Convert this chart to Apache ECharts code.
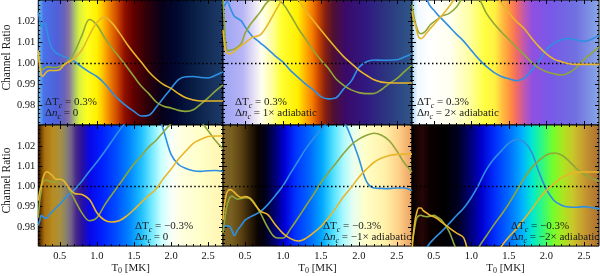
<!DOCTYPE html>
<html><head><meta charset="utf-8">
<script src="https://cdn.jsdelivr.net/npm/echarts@6/dist/echarts.min.js"></script>
<style>html,body{margin:0;padding:0;background:#fff}#c{width:600px;height:276px}</style>
</head><body><div id="c"></div>
<script>
// ---- data ----
const T = [0.21,0.23,0.25,0.27,0.30,0.33,0.36,0.40,0.45,0.50,0.55,0.60,0.70,0.80,0.90,1.00,1.10,1.20,1.30,1.40,1.50,1.60,1.70,1.80,1.90,2.00,2.10,2.20,2.30,2.40,2.50,2.60,2.70];
const b1 = [1.0245,1.0210,1.0175,1.0185,1.0190,1.0150,1.0105,1.0068,1.0050,1.0040,1.0033,1.0027,1.0008,0.9982,0.9958,0.9937,0.9905,0.9862,0.9825,0.9795,0.9770,0.9748,0.9752,0.9790,0.9835,0.9880,0.9922,0.9936,0.9937,0.9932,0.9930,0.9943,0.9960];
const g1 = [1.0040,0.9990,0.9972,0.9970,0.9978,0.9983,0.9983,0.9980,0.9980,0.9985,0.9995,1.0005,1.0055,1.0135,1.0210,1.0183,1.0125,1.0075,1.0030,0.9985,0.9937,0.9890,0.9855,0.9815,0.9795,0.9786,0.9775,0.9770,0.9778,0.9805,0.9835,0.9868,0.9897];
const y1 = [1.0062,0.9990,0.9945,0.9938,0.9950,0.9962,0.9966,0.9966,0.9966,0.9970,0.9990,1.0003,1.0025,1.0065,1.0135,1.0195,1.0222,1.0195,1.0148,1.0095,1.0048,1.0005,0.9960,0.9925,0.9898,0.9880,0.9855,0.9835,0.9825,0.9820,0.9820,0.9820,0.9820];
const b2 = [1.0290,1.0275,1.0290,1.0295,1.0270,1.0245,1.0225,1.0215,1.0203,1.0175,1.0150,1.0128,1.0098,1.0068,1.0035,1.0006,0.9965,0.9933,0.9900,0.9873,0.9841,0.9830,0.9835,0.9878,0.9915,0.9980,1.0008,1.0016,1.0015,1.0015,1.0017,1.0030,1.0046];
const g2 = [1.0310,1.0180,1.0080,1.0060,1.0062,1.0065,1.0068,1.0078,1.0094,1.0143,1.0175,1.0200,1.0245,1.0295,1.0310,1.0285,1.0230,1.0168,1.0115,1.0062,1.0016,0.9975,0.9925,0.9895,0.9873,0.9860,0.9855,0.9856,0.9875,0.9903,0.9927,0.9960,0.9992];
const y2 = [1.0160,1.0090,1.0055,1.0048,1.0045,1.0050,1.0058,1.0070,1.0085,1.0098,1.0112,1.0125,1.0136,1.0185,1.0250,1.0310,1.0340,1.0305,1.0250,1.0205,1.0159,1.0115,1.0072,1.0032,1.0000,0.9968,0.9943,0.9921,0.9910,0.9907,0.9906,0.9906,0.9906];
const b3 = [1.0450,1.0430,1.0410,1.0390,1.0370,1.0350,1.0330,1.0310,1.0275,1.0255,1.0233,1.0215,1.0178,1.0140,1.0105,1.0062,1.0020,0.9985,0.9957,0.9937,0.9926,0.9917,0.9928,0.9965,1.0010,1.0065,1.0097,1.0113,1.0119,1.0112,1.0105,1.0115,1.0135];
const g3 = [1.0280,1.0235,1.0200,1.0175,1.0148,1.0142,1.0145,1.0158,1.0183,1.0198,1.0210,1.0225,1.0238,1.0268,1.0320,1.0340,1.0310,1.0240,1.0190,1.0150,1.0114,1.0077,1.0043,1.0006,0.9977,0.9960,0.9950,0.9944,0.9955,0.9980,1.0018,1.0048,1.0079];
const y3 = [1.0250,1.0210,1.0190,1.0160,1.0125,1.0118,1.0125,1.0143,1.0165,1.0185,1.0205,1.0225,1.0270,1.0320,1.0370,1.0400,1.0410,1.0390,1.0340,1.0290,1.0242,1.0200,1.0168,1.0122,1.0080,1.0045,1.0020,1.0008,0.9998,0.9995,0.9995,0.9995,0.9995];
const b4 = [0.9807,0.9830,0.9857,0.9852,0.9843,0.9845,0.9862,0.9875,0.9895,0.9911,0.9933,0.9953,0.9985,1.0027,1.0075,1.0120,1.0170,1.0222,1.0275,1.0320,1.0360,1.0390,1.0400,1.0380,1.0275,1.0158,1.0108,1.0088,1.0077,1.0074,1.0077,1.0078,1.0073];
const g4 = [0.9845,0.9930,0.9975,1.0015,1.0030,1.0030,1.0025,1.0020,1.0025,1.0035,1.0032,1.0003,0.9935,0.9868,0.9830,0.9845,0.9905,0.9958,1.0008,1.0060,1.0110,1.0151,1.0195,1.0228,1.0270,1.0310,1.0340,1.0360,1.0350,1.0320,1.0275,1.0225,1.0185];
const y4 = [0.9930,0.9975,1.0003,1.0035,1.0065,1.0072,1.0065,1.0053,1.0035,1.0035,1.0028,1.0003,0.9965,0.9960,0.9935,0.9870,0.9834,0.9824,0.9830,0.9853,0.9885,0.9921,0.9955,0.9988,1.0040,1.0085,1.0135,1.0175,1.0212,1.0232,1.0246,1.0249,1.0249];
const b5 = [0.9795,0.9802,0.9805,0.9805,0.9802,0.9780,0.9757,0.9783,0.9808,0.9833,0.9845,0.9855,0.9875,0.9910,0.9955,1.0003,1.0065,1.0125,1.0185,1.0235,1.0280,1.0320,1.0340,1.0320,1.0240,1.0138,1.0025,0.9992,0.9990,0.9989,0.9992,0.9992,0.9979];
const g5 = [0.9770,0.9830,0.9880,0.9915,0.9945,0.9952,0.9945,0.9937,0.9940,0.9944,0.9943,0.9930,0.9870,0.9797,0.9748,0.9745,0.9790,0.9845,0.9902,0.9958,1.0018,1.0068,1.0115,1.0163,1.0205,1.0233,1.0252,1.0262,1.0252,1.0225,1.0175,1.0115,1.0071];
const y5 = [0.9833,0.9910,0.9955,0.9975,0.9984,0.9980,0.9970,0.9955,0.9945,0.9950,0.9945,0.9925,0.9878,0.9860,0.9810,0.9768,0.9742,0.9730,0.9743,0.9770,0.9802,0.9845,0.9895,0.9950,0.9995,1.0045,1.0085,1.0119,1.0140,1.0152,1.0158,1.0159,1.0159];
const b6 = [0.9620,0.9630,0.9640,0.9650,0.9660,0.9670,0.9680,0.9695,0.9720,0.9740,0.9758,0.9775,0.9814,0.9855,0.9893,0.9945,1.0010,1.0083,1.0135,1.0175,1.0214,1.0230,1.0220,1.0172,1.0071,0.9985,0.9930,0.9907,0.9898,0.9897,0.9900,0.9895,0.9889];
const g6 = [0.9720,0.9760,0.9805,0.9840,0.9855,0.9857,0.9853,0.9850,0.9853,0.9857,0.9848,0.9835,0.9780,0.9690,0.9640,0.9620,0.9700,0.9755,0.9810,0.9860,0.9915,0.9975,1.0038,1.0090,1.0127,1.0155,1.0165,1.0155,1.0125,1.0088,1.0060,1.0040,1.0024];
const y6 = [0.9680,0.9770,0.9830,0.9865,0.9893,0.9893,0.9880,0.9870,0.9857,0.9850,0.9840,0.9825,0.9797,0.9770,0.9745,0.9620,0.9600,0.9600,0.9640,0.9703,0.9750,0.9790,0.9838,0.9885,0.9937,0.9980,1.0012,1.0042,1.0060,1.0069,1.0071,1.0071,1.0071];
const xTickLabels = [0.5, 1.0, 1.5, 2.0, 2.5];
const yTickLabels = [0.98, 0.99, 1.00, 1.01, 1.02];
const refLevel = 1.00;
const notes = [
  ['{r|ΔT}{s|c}{r| = 0.3%}', '{r|Δ}{i|n}{s|c}{r| = 0}'],
  ['{r|ΔT}{s|c}{r| = 0.3%}', '{r|Δ}{i|n}{s|c}{r| = 1× adiabatic}'],
  ['{r|ΔT}{s|c}{r| = 0.3%}', '{r|Δ}{i|n}{s|c}{r| = 2× adiabatic}'],
  ['{r|ΔT}{s|c}{r| = −0.3%}', '{r|Δ}{i|n}{s|c}{r| = 0}'],
  ['{r|ΔT}{s|c}{r| = −0.3%}', '{r|Δ}{i|n}{s|c}{r| = −1× adiabatic}'],
  ['{r|ΔT}{s|c}{r| = −0.3%}', '{r|Δ}{i|n}{s|c}{r| = −2× adiabatic}']
];
const seriesSets = [[b1,g1,y1],[b2,g2,y2],[b3,g3,y3],[b4,g4,y4],[b5,g5,y5],[b6,g6,y6]];

// ---- styles / layout ----
const X_MIN = 0.21, X_MAX = 2.70, Y_MIN = 0.9705, Y_MAX = 1.0303;
const FONT = "'Liberation Serif','Times New Roman',serif";
const COLORS = ['#2f8fe3', '#8fa63a', '#e8b62a'];
const layout = [
  {left:35, top:0, width:188, height:125, note:[45,104,115]},
  {left:223, top:0, width:189, height:125, note:[235,104,115]},
  {left:412, top:0, width:187, height:125, note:[417,104,115]},
  {left:35, top:125, width:188, height:124, note:[135,228,239]},
  {left:223, top:125, width:189, height:124, note:[323,228,239]},
  {left:412, top:125, width:187, height:124, note:[511,228,239]}
];
const backgrounds = [
  [[0,'#70c0f0'],[0.016,'#5aa0ee'],[0.032,'#4a70e8'],[0.106,'#5060d8'],[0.144,'#6a62b8'],[0.170,'#8a78a0'],[0.197,'#a8c070'],[0.223,'#d8f040'],[0.266,'#ffff20'],[0.319,'#fff000'],[0.346,'#ffc800'],[0.383,'#f08800'],[0.426,'#d04800'],[0.468,'#901000'],[0.516,'#600000'],[0.585,'#300008'],[0.665,'#080018'],[0.745,'#000830'],[0.851,'#0a2048'],[0.957,'#183460'],[1,'#1c3c6a']],
  [[0,'#9aa4f2'],[0.106,'#b8b4f6'],[0.169,'#e8e4f4'],[0.206,'#fffff0'],[0.259,'#ffffa0'],[0.312,'#ffff30'],[0.397,'#ffee00'],[0.434,'#ffb400'],[0.471,'#f58000'],[0.503,'#d04a00'],[0.540,'#882010'],[0.582,'#501030'],[0.646,'#3a0a68'],[0.751,'#301880'],[0.857,'#2c3480'],[1,'#2e5888']],
  [[0,'#a0d4f6'],[0.032,'#f0f8ff'],[0.096,'#ffffff'],[0.203,'#fffff0'],[0.310,'#ffffa0'],[0.390,'#ffff40'],[0.444,'#fff040'],[0.481,'#ffc040'],[0.524,'#ff9040'],[0.561,'#f06868'],[0.599,'#c058b0'],[0.642,'#9050e0'],[0.738,'#7858e8'],[0.872,'#7070e0'],[1,'#88a8e8']],
  [[0,'#180000'],[0.016,'#683800'],[0.037,'#a87010'],[0.080,'#b88c20'],[0.122,'#a89040'],[0.154,'#888070'],[0.181,'#706088'],[0.207,'#482888'],[0.239,'#2810a0'],[0.282,'#0808e8'],[0.346,'#0020ff'],[0.426,'#0050ff'],[0.495,'#0088ff'],[0.559,'#20c0ff'],[0.612,'#70e8ff'],[0.665,'#c8ffff'],[0.718,'#f8fff8'],[0.771,'#ffffe0'],[0.878,'#ffffc8'],[1,'#fff4b0']],
  [[0,'#806428'],[0.048,'#786020'],[0.101,'#5a4010'],[0.143,'#302008'],[0.185,'#0a0400'],[0.222,'#000018'],[0.275,'#000070'],[0.328,'#0000d8'],[0.381,'#0030ff'],[0.460,'#0068ff'],[0.524,'#00a8ff'],[0.582,'#50e0ff'],[0.635,'#a8f8ff'],[0.688,'#e8fff0'],[0.751,'#ffffc8'],[0.857,'#fff0a8'],[0.926,'#ffd088'],[1,'#e8a060']],
  [[0,'#000000'],[0.032,'#1a0404'],[0.059,'#240606'],[0.096,'#0c0000'],[0.176,'#000000'],[0.246,'#000020'],[0.310,'#000070'],[0.374,'#0000d0'],[0.444,'#0030ff'],[0.524,'#0070ff'],[0.588,'#00b0ff'],[0.642,'#00e8d0'],[0.695,'#30f880'],[0.749,'#70ff30'],[0.802,'#a8e820'],[0.856,'#c8c828'],[0.909,'#c8a030'],[0.963,'#b88030'],[1,'#a87030']]
];

function range(a, b, step) { const out = []; for (let v = a; v <= b + 1e-9; v += step) out.push(+v.toFixed(4)); return out; }
const xMinor = range(0.3, 2.6, 0.1).filter(v => !xTickLabels.some(m => Math.abs(m - v) < 1e-6));
const yMinor = range(0.972, 1.030, 0.002).filter(v => !yTickLabels.some(m => Math.abs(m - v) < 1e-6));

const textBase = {fontFamily: FONT, fontSize: 11, color: '#1a1a1a'};
const noteRich = {
  r: Object.assign({lineHeight: 14}, textBase),
  i: Object.assign({lineHeight: 14, fontStyle: 'italic'}, textBase),
  s: {fontFamily: FONT, fontSize: 8, fontStyle: 'italic', color: '#1a1a1a', lineHeight: 8, verticalAlign: 'bottom'}
};

const grid = [], xAxis = [], yAxis = [], series = [], graphic = [];
layout.forEach((p, i) => {
  const bottomRow = i >= 3, leftCol = i % 3 === 0;
  grid.push({left: p.left, top: p.top, width: p.width, height: p.height, show: true,
    backgroundColor: new echarts.graphic.LinearGradient(0, 0, 1, 0, backgrounds[i].map(([o, c]) => ({offset: o, color: c}))),
    borderColor: '#000', borderWidth: 1});
  const xi = xAxis.length, yi = yAxis.length;
  const mkX = (pos, ticks, len, showLabel) => ({
    type: 'value', gridIndex: i, position: pos, min: X_MIN, max: X_MAX,
    axisLine: {show: false, onZero: false}, splitLine: {show: false},
    axisTick: {show: true, inside: true, length: len, customValues: ticks, lineStyle: {color: '#000', width: 1}},
    axisLabel: {show: showLabel, customValues: ticks, margin: 5, fontFamily: FONT, fontSize: 10.5, color: '#111', formatter: v => v.toFixed(1)},
    name: showLabel ? '{t|T}{s|0}{t| [MK]}' : '', nameLocation: 'middle', nameGap: 13,
    nameTextStyle: {rich: {t: Object.assign({lineHeight: 13}, textBase), s: {fontFamily: FONT, fontSize: 8, color: '#1a1a1a', lineHeight: 8, verticalAlign: 'bottom'}}}
  });
  const mkY = (pos, ticks, len, showLabel) => ({
    type: 'value', gridIndex: i, position: pos, min: Y_MIN, max: Y_MAX,
    axisLine: {show: false, onZero: false}, splitLine: {show: false},
    axisTick: {show: true, inside: true, length: len, customValues: ticks, lineStyle: {color: '#000', width: 1}},
    axisLabel: {show: showLabel, customValues: ticks, margin: 3, fontFamily: FONT, fontSize: 10.5, color: '#111', formatter: v => v.toFixed(2)},
    name: showLabel ? 'Channel Ratio' : '', nameLocation: 'middle', nameGap: 23,
    nameTextStyle: Object.assign({}, textBase, {fontSize: 11.5, padding: [0, 0, 0, 10]})
  });
  xAxis.push(mkX('bottom', xTickLabels, 4, bottomRow), mkX('bottom', xMinor, 2, false), mkX('top', xTickLabels, 4, false), mkX('top', xMinor, 2, false));
  yAxis.push(mkY('left', yTickLabels, 4, leftCol), mkY('left', yMinor, 2, false), mkY('right', yTickLabels, 4, false), mkY('right', yMinor, 2, false));
  seriesSets[i].forEach((vals, k) => {
    const s = {type: 'line', xAxisIndex: xi, yAxisIndex: yi, data: T.map((t, j) => [t, vals[j]]),
      showSymbol: false, smooth: 0.35, clip: true, z: 3 + k, silent: true, animation: false,
      lineStyle: {color: COLORS[k], width: 1.6}};
    if (k === 0) s.markLine = {silent: true, symbol: 'none', label: {show: false}, animation: false,
      lineStyle: {color: '#000', type: [1.5, 2.5], width: 1.3}, data: [{yAxis: refLevel}]};
    series.push(s);
  });
  notes[i].forEach((txt, li) => {
    graphic.push({type: 'text', left: p.note[0], top: p.note[1 + li] - 7, z: 100, silent: true,
      style: {text: txt, rich: noteRich, fill: '#1a1a1a'}});
  });
});

const chart = echarts.init(document.getElementById('c'), null, {renderer: 'canvas'});
chart.setOption({animation: false, grid, xAxis, yAxis, series, graphic});
</script></body></html>
